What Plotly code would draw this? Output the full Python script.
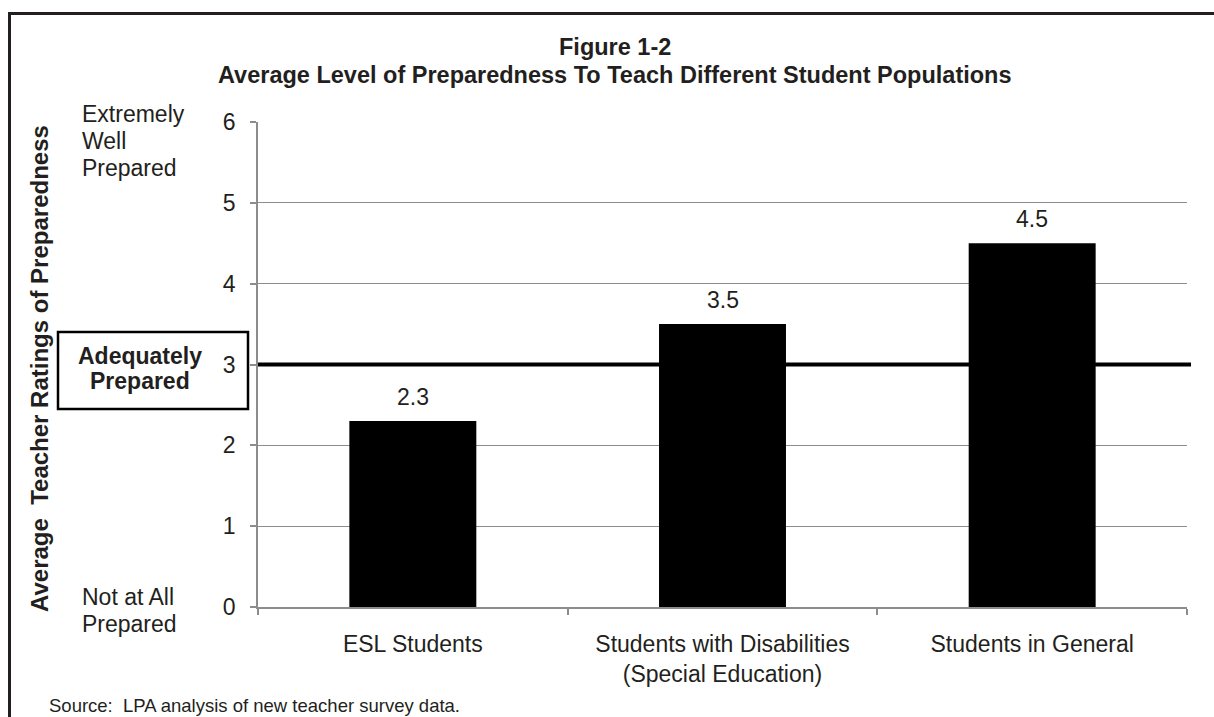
import plotly.graph_objects as go

# ---- data ----
categories = ["ESL Students",
              "Students with Disabilities<br>(Special Education)",
              "Students in General"]
values = [2.3, 3.5, 4.5]
value_labels = ["2.3", "3.5", "4.5"]
y_ticks = [0, 1, 2, 3, 4, 5, 6]
threshold = 3
top_label = ["Extremely", "Well", "Prepared"]
bottom_label = ["Not at All", "Prepared"]
box_label = ["Adequately", "Prepared"]
title_lines = ["Figure 1-2",
               "Average Level of Preparedness To Teach Different Student Populations"]
y_title = "Average\u00a0 Teacher Ratings of Preparedness"
source = "Source:\u00a0 LPA analysis of new teacher survey data."

# ---- layout geometry (pixels) ----
W, H = 1214, 717
L, R, T, B = 258, 1187, 122, 607
pw, ph = R - L, B - T


def px(x):
    return (x - L) / pw


def py(y):
    return (B - y) / ph


FONT = "Liberation Sans, Arial, sans-serif"
TXT = "#231f20"
GRID = "#8c8c8c"

fig = go.Figure()
fig.add_trace(go.Bar(
    x=categories, y=values,
    marker=dict(color="#000000", line=dict(width=0)),
    width=0.41,
    hoverinfo="skip",
))

annotations = []
# value labels above bars
for c, v, t in zip(categories, values, value_labels):
    annotations.append(dict(x=c, y=v, xref="x", yref="y", text=t,
                            showarrow=False, yanchor="bottom", yshift=9,
                            font=dict(size=23, color=TXT, family=FONT)))

# title
for i, (line, yc) in enumerate(zip(title_lines, [47, 75])):
    annotations.append(dict(x=px(615), y=py(yc), xref="paper", yref="paper",
                            text="<b>%s</b>" % line, showarrow=False,
                            xanchor="center", yanchor="middle",
                            font=dict(size=23.5, color=TXT, family=FONT)))

# left labels
for line, yc in zip(top_label, [114, 141, 168]):
    annotations.append(dict(x=px(80), y=py(yc), xref="paper", yref="paper",
                            text=line, showarrow=False, xanchor="left", yanchor="middle",
                            font=dict(size=23, color=TXT, family=FONT)))
for line, yc in zip(bottom_label, [597, 624]):
    annotations.append(dict(x=px(80), y=py(yc), xref="paper", yref="paper",
                            text=line, showarrow=False, xanchor="left", yanchor="middle",
                            font=dict(size=23, color=TXT, family=FONT)))
for line, yc in zip(box_label, [356, 381]):
    annotations.append(dict(x=px(140), y=py(yc), xref="paper", yref="paper",
                            text="<b>%s</b>" % line, showarrow=False,
                            xanchor="center", yanchor="middle",
                            font=dict(size=23, color=TXT, family=FONT)))

# y axis title
annotations.append(dict(x=px(39), y=py(369), xref="paper", yref="paper",
                        text="<b>%s</b>" % y_title, showarrow=False, textangle=-90,
                        xanchor="center", yanchor="middle",
                        font=dict(size=24, color=TXT, family=FONT)))
# source
annotations.append(dict(x=px(47), y=py(705), xref="paper", yref="paper",
                        text=source, showarrow=False, xanchor="left", yanchor="middle",
                        font=dict(size=18.5, color=TXT, family=FONT)))

shapes = [
    # adequately prepared box
    dict(type="rect", xref="paper", yref="paper",
         x0=px(58), x1=px(248), y0=py(409), y1=py(332),
         line=dict(color="#000000", width=2.5), fillcolor="white", layer="below"),
    # threshold line
    dict(type="line", xref="paper", yref="y", x0=0, x1=px(1191),
         y0=threshold, y1=threshold, line=dict(color="#000000", width=4)),
    # outer frame
    dict(type="line", xref="paper", yref="paper", x0=px(9.5), x1=px(9.5),
         y0=py(12), y1=py(725), line=dict(color=TXT, width=3)),
    dict(type="line", xref="paper", yref="paper", x0=px(8), x1=px(1220),
         y0=py(13.5), y1=py(13.5), line=dict(color=TXT, width=3)),
]

fig.update_layout(
    width=W, height=H,
    margin=dict(l=L, r=W - R, t=T, b=H - B, pad=0),
    paper_bgcolor="white", plot_bgcolor="white",
    showlegend=False,
    bargap=0.59,
    font=dict(family=FONT, size=23, color=TXT),
    annotations=annotations,
    shapes=shapes,
    xaxis=dict(
        type="category",
        showline=True, linecolor=GRID, linewidth=1.5,
        ticks="outside", ticklen=6, tickcolor=GRID, tickwidth=1.5,
        tickson="boundaries",
        showgrid=False,
        tickfont=dict(size=23, color=TXT, family=FONT),
        ticklabelstandoff=16,
    ),
    yaxis=dict(
        range=[0, 6],
        tickvals=y_ticks,
        showline=True, linecolor=GRID, linewidth=1.5,
        ticks="outside", ticklen=6, tickcolor=GRID, tickwidth=1.5,
        showgrid=True, gridcolor=GRID, gridwidth=1.3,
        zeroline=False,
        tickfont=dict(size=23, color=TXT, family=FONT),
        ticklabelstandoff=10,
    ),
)

fig.write_html("out.html")
